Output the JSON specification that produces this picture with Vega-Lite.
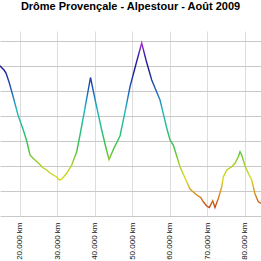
{
  "$schema": "https://vega.github.io/schema/vega-lite/v6.json",
  "autosize": "none",
  "padding": {"left": 0, "top": 31, "right": 0, "bottom": 45},
  "width": 261,
  "height": 185,
  "background": "white",
  "config": {"view": {"stroke": null}, "font": "Liberation Sans"},
  "title": {"text": "Drôme Provençale - Alpestour - Août 2009", "font": "Liberation Sans", "fontSize": 11, "fontWeight": "bold", "color": "#000000", "anchor": "middle", "offset": 19},
  "data": {"values": [
    {"km": 14.28, "alt": 808}, {"km": 14.81, "alt": 800}, {"km": 15.88, "alt": 784}, {"km": 16.41, "alt": 772},
    {"km": 17.21, "alt": 736}, {"km": 18.19, "alt": 684}, {"km": 19.60, "alt": 604}, {"km": 21.01, "alt": 544},
    {"km": 21.92, "alt": 500}, {"km": 22.79, "alt": 444}, {"km": 23.67, "alt": 430}, {"km": 25.00, "alt": 412},
    {"km": 26.33, "alt": 392}, {"km": 27.24, "alt": 384}, {"km": 28.12, "alt": 372}, {"km": 28.99, "alt": 364},
    {"km": 29.90, "alt": 356}, {"km": 30.59, "alt": 344}, {"km": 31.23, "alt": 347}, {"km": 32.56, "alt": 371},
    {"km": 33.89, "alt": 404}, {"km": 35.22, "alt": 457}, {"km": 36.10, "alt": 524}, {"km": 37.43, "alt": 632},
    {"km": 38.89, "alt": 754}, {"km": 40.36, "alt": 648}, {"km": 41.87, "alt": 544}, {"km": 43.02, "alt": 472},
    {"km": 43.82, "alt": 426}, {"km": 45.15, "alt": 472}, {"km": 46.74, "alt": 520}, {"km": 48.07, "alt": 616},
    {"km": 49.40, "alt": 717}, {"km": 51.00, "alt": 808}, {"km": 52.52, "alt": 892}, {"km": 53.66, "alt": 824},
    {"km": 55.18, "alt": 744}, {"km": 57.39, "alt": 664}, {"km": 59.17, "alt": 552}, {"km": 60.05, "alt": 504},
    {"km": 60.93, "alt": 484}, {"km": 61.91, "alt": 436}, {"km": 62.71, "alt": 397}, {"km": 64.04, "alt": 352},
    {"km": 65.37, "alt": 308}, {"km": 67.15, "alt": 284}, {"km": 68.22, "alt": 274}, {"km": 68.91, "alt": 257},
    {"km": 69.81, "alt": 240}, {"km": 70.51, "alt": 234}, {"km": 71.41, "alt": 261}, {"km": 72.02, "alt": 234},
    {"km": 72.90, "alt": 270}, {"km": 73.81, "alt": 317}, {"km": 74.23, "alt": 356}, {"km": 75.14, "alt": 384},
    {"km": 76.47, "alt": 397}, {"km": 77.34, "alt": 411}, {"km": 78.22, "alt": 437}, {"km": 78.68, "alt": 457},
    {"km": 79.13, "alt": 444}, {"km": 80.01, "alt": 400}, {"km": 80.88, "alt": 371}, {"km": 81.79, "alt": 344},
    {"km": 82.67, "alt": 288}, {"km": 83.55, "alt": 257}, {"km": 84.26, "alt": 251}, {"km": 85.06, "alt": 244}
  ]},
  "mark": {
    "type": "line",
    "clip": true,
    "strokeWidth": 1.4,
    "color": {
      "gradient": "linear",
      "x1": 0, "y1": 1, "x2": 0, "y2": 0,
      "stops": [
        {"offset": 0.0, "color": "#c04a12"},
        {"offset": 0.08, "color": "#d88a20"},
        {"offset": 0.17, "color": "#d8d820"},
        {"offset": 0.26, "color": "#a8d020"},
        {"offset": 0.36, "color": "#40c040"},
        {"offset": 0.47, "color": "#20c080"},
        {"offset": 0.59, "color": "#20b8c0"},
        {"offset": 0.71, "color": "#2060b8"},
        {"offset": 0.84, "color": "#1a1a90"},
        {"offset": 0.93, "color": "#3a20a8"},
        {"offset": 1.0, "color": "#b030d0"}
      ]
    }
  },
  "encoding": {
    "x": {
      "field": "km", "type": "quantitative",
      "scale": {"domain": [14.81, 84.26], "nice": false, "zero": false},
      "axis": {
        "values": [20, 30, 40, 50, 60, 70, 80],
        "labelExpr": "format(datum.value, '.3f') + ' km'",
        "labelAngle": 270, "labelFontSize": 8, "labelFont": "Liberation Sans", "labelColor": "#111111",
        "labelPadding": 6, "ticks": false, "tickSize": 0, "domain": false,
        "grid": true, "gridColor": "#dddddd", "gridWidth": 1, "title": null, "labelOverlap": false
      }
    },
    "y": {
      "field": "alt", "type": "quantitative",
      "scale": {"domain": [200, 940], "nice": false, "zero": false},
      "axis": {
        "values": [200, 300, 400, 500, 600, 700, 800, 900],
        "labels": false, "ticks": false, "domain": false,
        "grid": true, "gridColor": "#c8c8c8", "gridWidth": 1, "title": null
      }
    }
  }
}
